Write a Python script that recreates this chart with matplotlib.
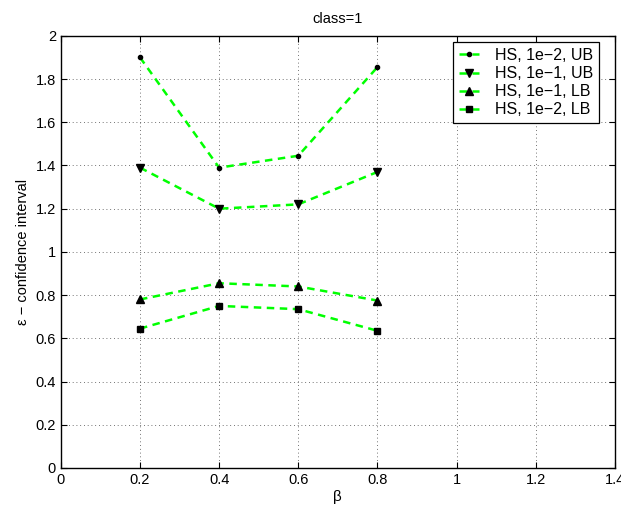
import matplotlib
matplotlib.use("Agg")
import matplotlib.pyplot as plt

plt.rcParams["font.family"] = ["Liberation Sans", "DejaVu Sans"]

beta = [0.2, 0.4, 0.6, 0.8]
ub_1e2 = [1.90, 1.39, 1.445, 1.855]
ub_1e1 = [1.39, 1.20, 1.22, 1.37]
lb_1e1 = [0.78, 0.855, 0.84, 0.775]
lb_1e2 = [0.645, 0.75, 0.735, 0.635]

series = [
    ("HS, 1e\u22122, UB", ub_1e2, ".", 6),
    ("HS, 1e\u22121, UB", ub_1e1, "v", 6),
    ("HS, 1e\u22121, LB", lb_1e1, "^", 6),
    ("HS, 1e\u22122, LB", lb_1e2, "s", 4.5),
]

fig = plt.figure(figsize=(6.21, 5.12), dpi=100)
ax = fig.add_axes([0.098, 0.086, 0.892, 0.844])

for label, vals, mk, ms in series:
    ax.plot(beta, vals, linestyle="--", color="#00ff00", linewidth=1.8,
            dashes=(3, 2.2), marker=mk, markersize=ms,
            markerfacecolor="black", markeredgecolor="black", label=label)

ax.set_xlim(0, 1.4)
ax.set_ylim(0, 2)
ax.set_xticks([0, 0.2, 0.4, 0.6, 0.8, 1, 1.2, 1.4])
ax.set_xticklabels(["0", "0.2", "0.4", "0.6", "0.8", "1", "1.2", "1.4"])
ax.set_yticks([0, 0.2, 0.4, 0.6, 0.8, 1, 1.2, 1.4, 1.6, 1.8, 2])
ax.set_yticklabels(["0", "0.2", "0.4", "0.6", "0.8", "1", "1.2", "1.4", "1.6", "1.8", "2"])
ax.tick_params(direction="in", labelsize=10.5, length=4, top=True, right=True,
               width=0.8)
for sp in ax.spines.values():
    sp.set_linewidth(1.0)
ax.grid(True, linestyle=(0, (1, 3.5)), color="#444444", linewidth=0.6)

ax.set_xlabel("\u03b2", fontsize=11, labelpad=2)
ax.set_ylabel("\u03b5 \u2212 confidence interval", fontsize=10.5, labelpad=4)
ax.set_title("class=1", fontsize=10.5, pad=9)

leg = ax.legend(loc="upper right", bbox_to_anchor=(0.972, 0.985), fontsize=11.5,
                fancybox=False, framealpha=1, edgecolor="black",
                borderaxespad=0.0, handlelength=1.3, handletextpad=1.0,
                labelspacing=0.2, borderpad=0.35)
leg.get_frame().set_linewidth(0.9)

fig.savefig("out.png", dpi=100)
